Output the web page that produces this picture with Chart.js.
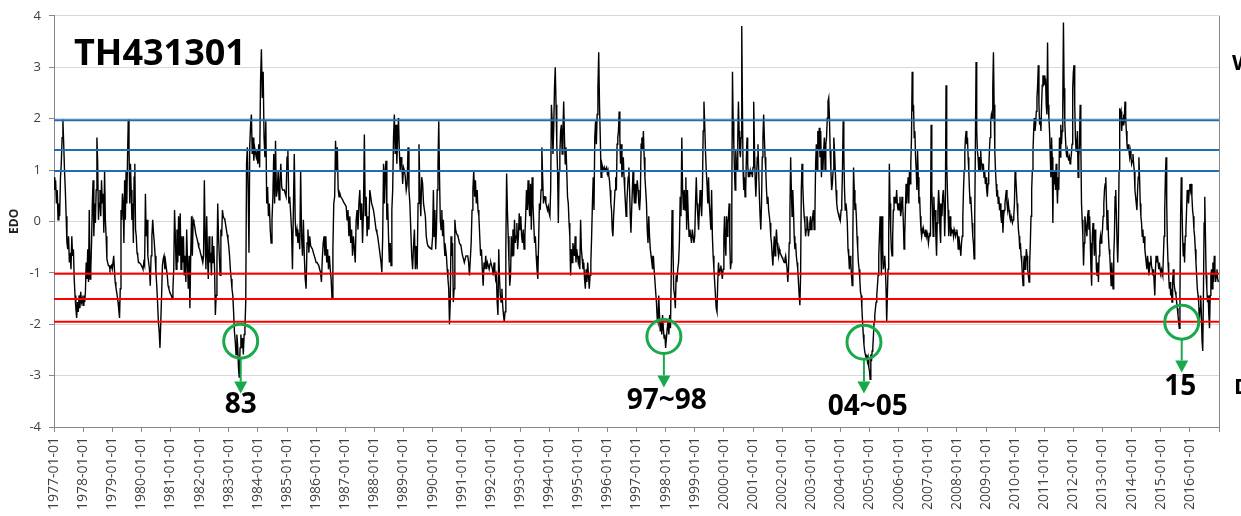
<!DOCTYPE html>
<html><head><meta charset="utf-8">
<script src="https://cdn.jsdelivr.net/npm/chart.js@4.4.1/dist/chart.umd.min.js"></script>
<style>html,body{margin:0;padding:0;background:#fff;overflow:hidden}#wrap{width:1241px;height:516px;position:relative}</style>
</head><body><div id="wrap"><canvas id="c" width="1241" height="516"></canvas></div>
<script>
// EDO values, evenly spread within each year
const y1977=[0.86,0.61,0.80,0.35,0.61,0.03,0.35,0.10,0.86,1.12,1.63,1.98,1.50,0.99,0.61,0.10,-0.42,-0.54,-0.29,-0.80,-0.61,-0.93,-0.29,-0.67,-0.54,-1.12,-1.44,-1.69,-1.88,-1.57,-1.76,-1.44,-1.69,-1.37,-1.57,-1.50];
const y1978=[-1.63,-1.44,-1.57,-1.37,-0.80,-1.12,-0.54,-1.18,0.22,-1.12,-0.93,-0.42,0.35,0.80,-0.29,0.35,-0.03,0.61,1.63,1.12,0.03,0.35,0.61,0.10,0.80,0.35,0.54,-0.22,0.99,0.03,-0.29,-0.73,-0.80,-0.86,-0.86,-0.93,-0.89,-0.86];
const y1979=[-0.93,-0.93,-0.67,-0.93,-1.18,-1.28,-1.37,-1.47,-1.57,-1.73,-1.88,-1.31,0.22,0.03,0.54,0.35,-0.42,0.80,0.03,0.99,0.35,1.25,1.98,1.50,0.35,1.12,0.61,0.03,0.35,-0.42,0.86,1.12,-0.16,-0.29,-0.61,-0.67,-0.80,-0.80,-0.80,-0.83];
const y1980=[-0.86,-0.89,-0.93,-0.80,-0.86,0.54,-0.29,0.03,-0.67,-0.80,-0.93,-1.25,-0.67,-0.29,0.03,-0.22,-0.42,-0.67,-0.99,-1.25,-1.57,-1.95,-2.14,-2.46,-1.95,-1.44,-0.86,-0.73,-0.67,-0.93,-0.80,-0.93,-1.05,-1.25,-1.31,-1.37];
const y1981=[-1.41,-1.44,-1.50,-1.31,-0.93,0.22,-0.29,-0.93,-0.16,-0.80,0.10,-0.67,0.16,-0.93,-0.29,-0.80,-0.29,-1.05,-0.67,-1.18,-0.16,-0.80,-1.31,-0.67,-1.69,-0.67,0.10,-0.67,0.03,-0.03,-0.10,-0.22,-0.29,-0.35,-0.42,-0.51];
const y1982=[-0.54,-0.61,-0.67,-0.73,-0.80,-0.67,0.80,-0.29,-0.93,0.10,-0.67,-1.12,-0.29,-0.80,-0.61,-1.05,-0.29,-0.80,-0.48,-0.93,-1.82,-1.44,-0.80,0.35,-0.29,-0.67,-1.05,-0.16,-0.29,0.22,0.10,0.06,0.03,-0.06,-0.16,-0.26,-0.35];
const y1983=[-0.48,-0.67,-0.93,-1.12,-1.31,-1.44,-1.76,-2.14,-2.33,-2.59,-2.20,-2.40,-2.84,-3.04,-2.46,-2.20,-2.46,-2.27,-2.59,-2.20,-2.08,-1.57,1.12,1.44,0.61,-0.61,1.50,1.88,2.08,1.31,1.63,1.18,1.44,1.34,1.25,1.37];
const y1984=[1.12,1.50,1.05,2.72,3.35,2.40,2.91,1.63,1.25,1.95,0.35,0.67,0.10,0.35,-0.16,-0.42,0.03,0.48,1.31,0.35,1.57,0.48,0.61,0.99,0.42,0.80,1.12,0.67,0.61,0.61,0.61,0.54,0.48];
const y1985=[1.25,1.37,0.35,0.48,0.16,-0.16,-0.93,0.22,1.31,0.03,-0.29,-0.16,-0.42,-0.22,-0.54,0.99,-0.29,-0.67,0.03,-0.67,-1.12,-1.31,-0.42,-0.16,-0.61,-0.29,-0.48,-0.51,-0.54,-0.61,-0.67,-0.73];
const y1986=[-0.80,-0.80,-0.80,-0.86,-0.93,-0.99,-1.18,-0.73,-0.42,-0.29,-0.67,-0.29,-0.80,-0.54,-0.93,-0.67,-0.93,-1.12,-1.50,-0.54,0.35,0.48,1.57,0.99,1.44,0.61,0.48,0.54,0.48,0.45,0.42,0.38,0.35];
const y1987=[0.32,0.29,0.03,0.22,-0.29,0.10,-0.42,-0.16,-0.67,-0.29,-0.54,-0.80,0.03,0.22,-0.16,0.35,0.61,0.03,0.35,-0.42,0.22,1.69,0.10,0.48,-0.29,0.10,-0.16,0.61,0.48,0.35,0.29,0.22];
const y1988=[0.10,-0.03,-0.16,-0.22,-0.29,-0.42,-0.54,-0.67,-0.80,-0.99,-0.29,1.12,0.35,0.99,1.18,0.03,0.35,-0.29,-0.80,-0.42,-0.86,0.22,0.61,1.63,2.08,1.31,1.88,1.12,1.63,2.01,1.37,0.99,1.25,1.12,0.73];
const y1989=[1.05,0.99,0.86,0.61,0.73,1.44,0.61,0.35,-0.16,-0.67,-0.93,-0.48,-0.16,-0.93,-0.48,-0.93,0.35,1.50,0.61,0.10,0.86,0.73,0.35,0.22,0.10,-0.29,-0.42,-0.48,-0.50,-0.51,-0.53,-0.54];
const y1990=[-0.29,0.61,-0.29,0.22,-0.54,-0.16,0.61,1.12,1.95,0.86,0.03,-0.16,0.22,-0.29,0.03,-0.42,-0.67,-0.54,-0.67,-0.93,-1.12,-1.31,-2.00,-1.57,-0.29,-0.67,-0.42,-1.57,-1.31,0.03,-0.16,-0.22,-0.26,-0.29,-0.35,-0.42,-0.45,-0.48];
const y1991=[-0.58,-0.67,-0.73,-0.80,-0.73,-0.67,-0.67,-0.67,-0.80,-1.05,-0.73,-0.42,0.22,0.61,0.99,0.48,0.80,0.35,0.61,0.22,0.10,-0.29,-0.67,-0.54,-0.93,-1.25,-0.80,-0.93,-0.67,-0.93,-0.80,-0.86,-0.93,-0.83];
const y1992=[-0.80,-0.86,-0.93,-1.05,-0.80,-0.93,-1.12,-1.05,-1.57,-1.82,-0.54,-1.12,-1.44,-1.57,-1.31,-1.63,-1.82,-1.95,-1.76,-0.54,0.93,0.22,-0.29,-0.80,-1.25,-1.05,-0.29,-0.67,-0.16,-0.67,0.03,-0.42,-0.29,-0.03,-0.54,-0.29,0.16];
const y1993=[-0.16,0.10,-0.29,-0.42,-0.16,-0.54,-0.29,0.10,0.61,0.22,0.80,0.35,0.10,0.73,-0.16,0.86,0.35,-0.03,-0.42,-0.29,-0.67,-0.93,-1.12,-0.42,0.35,0.22,0.61,1.44,0.86,0.35,0.48,0.48,0.35,0.29,0.22,0.29];
const y1994=[0.16,0.10,0.61,2.27,1.95,1.31,1.82,2.59,3.00,2.27,1.50,0.99,-0.03,0.99,1.31,1.76,1.88,1.31,1.76,2.33,1.63,1.12,1.44,0.99,0.48,0.35,-0.03,-0.29,-1.05,-0.54,-0.80,-0.42,-0.54,-0.67,-0.29,-0.80,-0.54,-0.67];
const y1995=[-0.80,-0.67,-0.93,0.03,-0.54,-0.73,-0.93,-0.80,-1.12,-1.31,-0.93,-1.18,-0.80,-1.05,-1.31,-1.05,-0.80,-0.29,0.35,0.86,0.22,1.63,1.95,1.50,2.08,2.59,3.29,2.27,1.63,0.86,1.12,1.05,0.99,1.05,0.99,1.02,1.05];
const y1996=[0.93,0.99,0.89,0.80,0.61,0.35,0.22,-0.16,-0.29,0.10,0.35,0.61,0.86,0.61,1.50,1.63,1.76,2.14,1.63,1.12,1.50,0.86,0.99,1.25,0.86,0.61,0.35,0.10,0.35,0.61,0.86,1.05,0.61,0.10,-0.22,0.22,0.61,0.99,0.61,0.35,0.73,0.35];
const y1997=[0.61,0.80,0.61,0.35,0.22,0.48,1.50,1.63,1.37,1.76,1.25,0.86,0.61,0.35,-0.16,-0.42,0.10,-0.29,-0.54,-0.67,-0.80,-0.93,-0.67,-0.93,-0.93,-1.37,-1.57,-1.88,-1.95,-1.44,-1.82,-2.14,-1.95,-2.20,-1.82,-2.08,-2.27,-2.20];
const y1998=[-2.46,-2.27,-2.08,-1.95,-2.20,-1.82,-2.08,-0.93,0.22,-0.42,-1.31,-1.44,-1.69,-1.05,-1.18,-0.93,-0.80,-0.42,0.48,0.10,1.63,0.61,0.22,0.61,0.22,0.86,-0.16,0.61,0.10,-0.29,-0.16,-0.29,-0.42,-0.16,-0.29,-0.42];
const y1999=[-0.29,0.35,0.86,0.35,0.10,-0.16,0.22,0.61,0.35,0.10,0.61,1.76,2.33,1.88,1.37,0.99,0.73,0.35,0.86,0.35,0.10,-0.16,0.61,-0.29,-0.67,-0.93,-1.18,-1.44,-1.69,-1.76,-1.18,-0.80,-1.05,-0.93,-0.86,-0.99,-1.12,-0.93];
const y2000=[-0.29,0.10,-0.42,-0.67,0.10,-0.29,-0.03,0.10,0.35,-0.42,-0.93,-0.80,0.35,2.91,1.95,1.50,0.99,0.61,1.37,1.12,0.99,1.63,2.33,1.76,1.37,1.25,1.63,3.80,2.27,0.99,0.61,0.86,0.48,0.61,1.25,1.63,1.12,0.86,0.99,0.86,0.99,0.93,0.99,0.86];
const y2001=[1.05,2.33,1.50,0.86,0.48,0.86,1.25,1.50,0.99,0.48,0.10,-0.16,0.35,1.25,1.63,2.08,1.63,1.25,0.99,0.61,0.35,0.48,0.22,0.10,-0.03,-0.29,-0.42,-0.67,-0.86,-0.54,-0.29,-0.67,-0.42,-0.16,-0.42,-0.54,-0.67,-0.54,-0.61,-0.64,-0.67];
const y2002=[-0.70,-0.73,-0.77,-0.80,-0.73,-0.67,-0.80,-0.93,-1.18,-0.93,-0.42,0.22,1.25,0.61,0.10,0.61,0.22,-0.29,-0.54,-0.42,-0.67,-0.80,-0.93,-1.18,-1.44,-1.63,-1.05,0.61,1.12,0.73,0.35,0.10,-0.03,-0.29,-0.16,0.10,-0.03,-0.29,-0.16,-0.03,0.10];
const y2003=[-0.16,-0.03,0.10,0.22,-0.16,0.10,1.12,1.50,0.99,1.76,1.37,1.82,1.25,1.76,0.86,1.37,0.99,1.37,1.63,0.99,1.50,1.63,2.01,2.33,2.40,2.01,1.37,0.99,0.61,0.73,0.99,1.63,1.37,0.99,0.61,0.35,0.22,0.16,0.10,0.10];
const y2004=[0.03,0.22,0.35,0.99,1.95,1.31,0.61,0.22,0.35,0.22,-0.03,-0.54,-0.67,-0.93,-0.67,-0.80,-1.05,-1.25,-0.29,1.05,0.61,0.22,0.35,0.10,-0.29,-0.54,-0.80,-0.93,-1.12,-1.37,-1.44,-1.69,-1.95,-2.20,-2.40,-2.52,-2.59,-2.65,-2.59,-2.72,-2.65,-2.84];
const y2005=[-2.91,-3.07,-2.59,-2.72,-2.52,-2.46,-2.20,-1.95,-1.82,-1.69,-1.57,-1.44,-1.25,-1.05,-0.67,-0.29,0.10,-0.29,-1.05,0.10,-0.54,-0.93,-0.80,-0.67,-0.93,-1.31,-1.95,-1.44,-0.93,-0.29,1.12,0.35,-0.16,-0.54,-0.67,-0.29,0.22,0.48,0.35,0.48,0.35,0.61,0.35,0.22];
const y2006=[0.35,0.22,0.48,0.10,0.22,0.48,0.35,-0.03,-0.54,-0.29,0.22,0.73,0.35,0.61,0.86,0.35,0.99,0.73,1.12,1.63,2.91,2.14,2.27,1.63,1.76,1.25,0.99,0.61,1.37,0.86,0.35,0.48,0.10,-0.16,-0.29,-0.16,-0.22,-0.16,-0.22,-0.29,-0.16,-0.29,-0.22];
const y2007=[-0.29,-0.42,-0.29,-0.22,-0.29,1.88,0.61,0.22,-0.29,0.48,0.10,0.22,-0.29,-0.67,-0.03,0.22,0.61,0.35,-0.16,-0.42,0.35,0.10,0.48,0.61,0.35,-0.29,0.22,2.65,1.12,0.61,0.22,-0.29,-0.03,0.10,-0.29,-0.16,-0.22,-0.16,-0.29,-0.16,-0.22,-0.29,-0.22];
const y2008=[-0.16,-0.29,-0.54,-0.29,-0.42,-0.54,-0.67,-0.42,-0.29,0.10,0.61,0.99,1.37,1.63,1.76,1.50,1.63,1.25,0.99,0.61,0.35,0.48,0.22,-0.03,-0.29,-0.42,-0.73,0.10,1.50,3.10,1.76,1.37,1.25,0.99,1.25,0.99,1.37,1.12,1.12,0.99,1.12,0.86,0.99,0.73];
const y2009=[0.86,0.61,0.48,0.73,0.99,1.37,1.63,1.95,2.08,2.01,2.59,3.29,2.27,1.37,0.99,0.73,0.48,0.61,0.35,0.48,0.22,0.35,0.10,-0.03,0.22,-0.22,0.10,0.22,0.35,0.48,0.61,0.35,0.22,0.35,0.22,0.10,0.03,0.10,0.03,-0.03,0.03,0.10,0.35];
const y2010=[0.99,0.86,0.61,0.35,0.10,-0.16,-0.29,-0.54,-0.42,-0.67,-0.80,-1.05,-1.25,-0.80,-0.67,-0.93,-0.80,-0.54,-0.67,-0.93,-1.05,-1.18,-0.80,-0.42,0.10,0.61,0.99,1.37,1.76,2.01,1.76,1.88,2.14,2.40,2.65,3.04,2.27,1.88,2.01,1.76,2.27,2.65,2.84,2.72];
const y2011=[2.84,2.65,2.78,2.27,2.08,3.48,2.27,2.01,1.76,1.31,0.86,1.63,1.25,-0.03,0.99,0.73,0.99,0.61,1.12,0.73,0.35,0.86,0.61,1.63,1.25,1.88,1.50,1.76,2.27,3.87,2.59,1.95,1.63,1.37,1.25,1.37,1.25,1.18,1.25,1.12,1.18,1.31,1.50,2.59];
const y2012=[2.91,3.04,2.27,1.63,1.37,1.50,1.76,0.86,1.25,1.50,2.27,1.50,0.35,0.03,-0.29,-0.86,-0.42,0.10,-0.03,-0.16,-0.29,0.10,0.22,-0.16,0.10,-0.42,-0.93,-1.25,-0.29,-0.03,-0.29,-0.67,-0.16,-0.42,-0.93,-1.05,-0.80,-1.18,-0.67,-0.42,-0.29,-0.42,-0.29];
const y2013=[-0.16,0.10,0.35,0.61,0.73,0.86,0.35,-0.16,0.22,-0.29,-0.54,-0.67,-0.93,-1.25,-0.80,-1.05,-1.31,-0.67,-0.29,0.48,0.61,0.10,-0.42,-0.80,-0.29,0.99,2.20,2.08,2.14,1.76,2.01,1.88,2.08,2.01,2.33,2.01,1.76,1.50,1.37,1.50,1.37,1.25,1.37,1.25];
const y2014=[1.12,1.18,1.31,1.12,0.99,0.61,0.48,0.35,0.22,0.61,0.86,1.25,0.86,0.35,0.10,-0.03,-0.29,-0.16,-0.42,-0.29,-0.54,-0.67,-0.80,-0.93,-0.67,-0.80,-1.05,-0.93,-0.80,-0.67,-0.86,-0.93,-1.05,-0.93,-1.18,-1.44,-0.93,-0.67,-0.80,-0.67,-0.80,-0.93,-0.80,-0.93];
const y2015=[-0.99,-0.93,-0.99,-1.05,-0.67,-0.29,0.22,0.86,1.25,0.35,-0.42,-0.80,-1.05,-1.31,-1.18,-1.44,-1.31,-1.57,-1.18,-0.93,-1.18,-1.31,-1.37,-1.44,-1.57,-1.69,-1.82,-1.95,-2.08,-1.44,0.10,0.86,0.35,-0.29,-0.67,-0.42,-0.80,-0.29,-0.16,0.22,0.61,0.48,0.35,0.61];
const y2016=[0.73,0.61,0.73,0.48,0.22,0.10,-0.16,-0.29,-0.54,-0.80,-1.05,-1.31,-1.44,-1.57,-1.95,-1.69,-1.44,-1.82,-2.33,-2.52,-1.44,-0.03,0.48,-0.29,-1.05,-1.31,-1.57,-1.44,-1.82,-2.08,-1.44,-1.05,-0.93,-1.31,-0.80,-1.18,-0.67,-0.93,-1.18,-1.05,-0.93,-1.12,-1.18];

const years=[1977,1978,1979,1980,1981,1982,1983,1984,1985,1986,1987,1988,1989,1990,1991,1992,1993,1994,1995,1996,1997,1998,1999,2000,2001,2002,2003,2004,2005,2006,2007,2008,2009,2010,2011,2012,2013,2014,2015,2016];
const yearly=[y1977,y1978,y1979,y1980,y1981,y1982,y1983,y1984,y1985,y1986,y1987,y1988,y1989,y1990,y1991,y1992,y1993,y1994,y1995,y1996,y1997,y1998,y1999,y2000,y2001,y2002,y2003,y2004,y2005,y2006,y2007,y2008,y2009,y2010,y2011,y2012,y2013,y2014,y2015,y2016];
const tickLabels=years.map(y=>y+'-01-01');
const wetLevels=[1.97,1.39,0.98];
const dryLevels=[-1.02,-1.51,-1.95];
const eventLabels=['83','97~98','04~05','15'];
const eventX=[1983.41,1997.94,2004.81,2015.72];
const eventY=[-2.33,-2.24,-2.35,-1.96];
const arrowTipY=[-3.35,-3.23,-3.35,-2.94];
const labelX=[1983.41,1998.04,2004.94,2015.67];
const labelY=[-3.58,-3.49,-3.62,-3.22];

const edoPoints=[];
yearly.forEach((arr,i)=>arr.forEach((v,k)=>edoPoints.push({x:years[i]+k/arr.length,y:v})));

const X0=years[0], X1=years[years.length-1]+1;
const levelSet=(v,color)=>({data:[{x:X0,y:v},{x:X1,y:v}],borderColor:color,borderWidth:2,pointRadius:0,order:0});

const GREEN='#1aa84c';
const annot={
  id:'annot',
  afterDraw(chart){
    const {ctx,chartArea:a,scales:{x,y}}=chart;
    ctx.save();
    // right frame
    ctx.strokeStyle='#868686';ctx.lineWidth=1;
    const rx=Math.round(a.right)+0.5;
    ctx.beginPath();ctx.moveTo(rx,a.top);ctx.lineTo(rx,a.bottom+5);ctx.stroke();
    // title
    ctx.fillStyle='#000';ctx.font='bold 36px "Open Sans"';ctx.textAlign='left';ctx.textBaseline='alphabetic';
    ctx.fillText('TH431301',74,65);
    // side texts
    ctx.font='bold 22px "Open Sans"';
    ctx.fillText('Wet',1232,70);
    ctx.fillText('Dry',1234,394);
    // y title
    ctx.save();ctx.translate(15,y.getPixelForValue(0));ctx.rotate(-Math.PI/2);
    ctx.font='bold 12px "Open Sans"';ctx.textAlign='center';ctx.textBaseline='middle';ctx.fillStyle='#222';
    ctx.fillText('EDO',0,0);ctx.restore();
    // events
    eventLabels.forEach((lab,i)=>{
      const cx=x.getPixelForValue(eventX[i]), cy=y.getPixelForValue(eventY[i]);
      const r=17, tip=y.getPixelForValue(arrowTipY[i]);
      ctx.strokeStyle=GREEN;ctx.fillStyle=GREEN;ctx.lineWidth=3;
      ctx.beginPath();ctx.arc(cx,cy,r,0,Math.PI*2);ctx.stroke();
      ctx.lineWidth=2;
      ctx.beginPath();ctx.moveTo(cx,cy+r);ctx.lineTo(cx,tip-12);ctx.stroke();
      ctx.beginPath();ctx.moveTo(cx-6.5,tip-12);ctx.lineTo(cx+6.5,tip-12);ctx.lineTo(cx,tip);ctx.closePath();ctx.fill();
      ctx.fillStyle='#000';ctx.font='bold 28px "Open Sans"';ctx.textAlign='center';ctx.textBaseline='middle';
      ctx.fillText(lab,x.getPixelForValue(labelX[i]),y.getPixelForValue(labelY[i]));
    });
    ctx.restore();
  }
};

new Chart(document.getElementById('c'),{
  type:'line',
  data:{datasets:[
    ...wetLevels.map(v=>levelSet(v,'#1f6db5')),
    ...dryLevels.map(v=>levelSet(v,'#ff0000')),
    {data:edoPoints,borderColor:'#000',borderWidth:1.4,pointRadius:0,tension:0,order:1}
  ]},
  options:{
    responsive:false,animation:false,devicePixelRatio:1,
    layout:{padding:{left:0,right:22,top:10,bottom:0}},
    plugins:{legend:{display:false},tooltip:{enabled:false}},
    elements:{line:{borderJoinStyle:'miter'}},
    scales:{
      x:{type:'linear',min:X0,max:X1,
        afterBuildTicks:s=>{s.ticks=years.concat([X1]).map(v=>({value:v}));},
        ticks:{autoSkip:false,minRotation:90,maxRotation:90,padding:5,color:'#404040',font:{family:'Open Sans',size:14},
          callback:(v)=>{const i=years.indexOf(v);return i>=0?tickLabels[i]:'';}},
        grid:{drawOnChartArea:false,drawTicks:true,tickLength:5,color:'#868686'},
        border:{color:'#868686'},
        afterFit:s=>{s.height=89;}
      },
      y:{min:-4,max:4,
        ticks:{stepSize:1,padding:8,color:'#404040',font:{family:'Open Sans',size:13}},
        grid:{color:'#d9d9d9',tickColor:'#868686',tickLength:5},
        border:{color:'#868686'},
        afterFit:s=>{s.width=54;}
      }
    }
  },
  plugins:[annot]
});
</script></body></html>
